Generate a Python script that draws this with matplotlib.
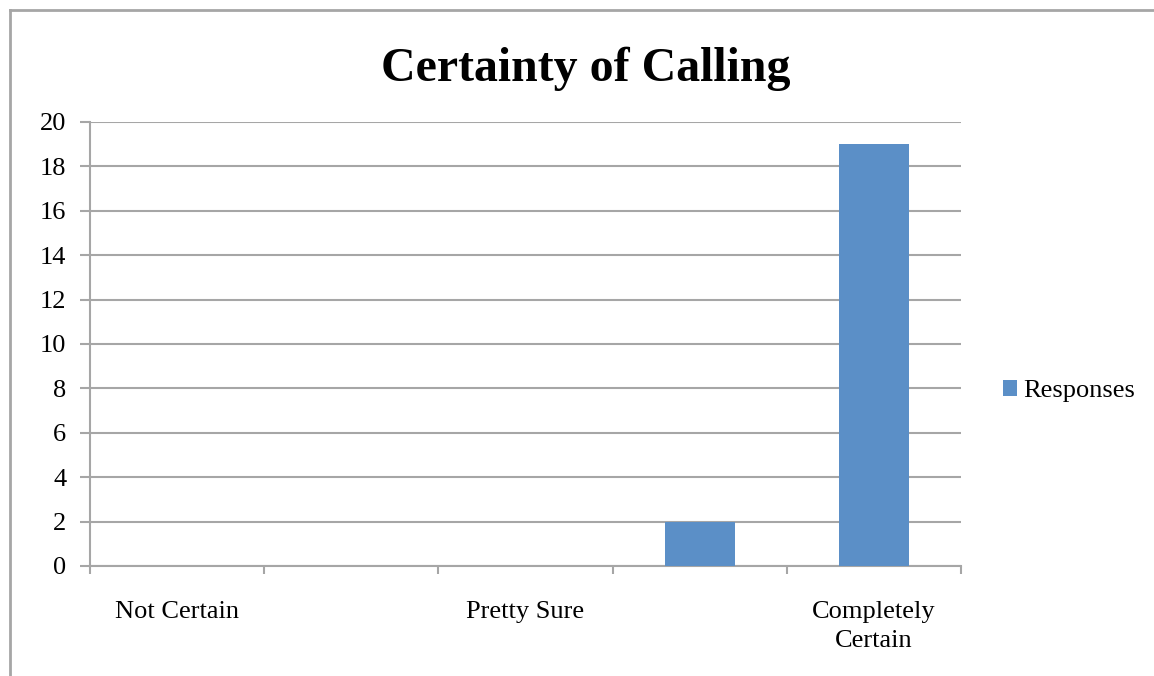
import matplotlib.pyplot as plt
from matplotlib.lines import Line2D
import numpy as np

categories = ['Not Certain', '', 'Pretty Sure', '', 'Completely\nCertain']
responses = [0, 0, 0, 2, 19]

plt.rcParams['font.family'] = ['Liberation Serif', 'DejaVu Serif']

fig = plt.figure(figsize=(11.54, 6.76), dpi=100)
ax = fig.add_axes([90 / 1154, 1 - 566 / 676, (961 - 90) / 1154, (566 - 122) / 676])

grid_color = '#A6A6A6'
x = np.arange(len(categories))
ax.bar(x, responses, width=0.4, color='#5B8FC7', label='Responses', zorder=3)

ax.set_xlim(-0.5, len(categories) - 0.5)
ax.set_ylim(0, 20)
ax.set_yticks(range(0, 21, 2))
ax.yaxis.grid(True, color=grid_color, linewidth=1.5, zorder=0)

ax.set_xticks(x)
ax.set_xticklabels(categories, fontsize=19, linespacing=1.4)
ax.set_xticks(np.arange(-0.5, len(categories)), minor=True)
ax.tick_params(axis='x', which='major', length=0, pad=25)
ax.tick_params(axis='x', which='minor', length=6, width=1.5, color=grid_color)
ax.tick_params(axis='y', length=7, width=1.5, color=grid_color, labelsize=19, pad=10)

for side in ['top', 'right']:
    ax.spines[side].set_visible(False)
for side in ['left', 'bottom']:
    ax.spines[side].set_color(grid_color)
    ax.spines[side].set_linewidth(1.5)

fig.text(586 / 1154, 1 - 69 / 676, 'Certainty of Calling', ha='center', va='center',
         fontsize=34.5, fontweight='bold')

ax.legend(loc='center left', bbox_to_anchor=(992 / 1154, 1 - 391 / 676),
          bbox_transform=fig.transFigure, frameon=False, fontsize=19,
          handlelength=0.55, handleheight=0.55, handletextpad=0.25, borderaxespad=0)

# outer chart border (left and top edges visible)
fig.add_artist(Line2D([10 / 1154, 10 / 1154], [0, 1 - 10 / 676], transform=fig.transFigure,
                      color='#A6A6A6', linewidth=2))
fig.add_artist(Line2D([10 / 1154, 1], [1 - 10 / 676, 1 - 10 / 676], transform=fig.transFigure,
                      color='#A6A6A6', linewidth=2))

fig.savefig('out.png', dpi=100)
